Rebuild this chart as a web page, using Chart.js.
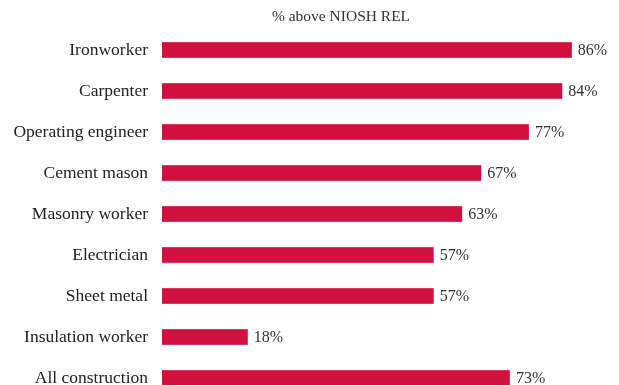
<!DOCTYPE html>
<html>
<head>
<meta charset="utf-8">
<script src="https://cdn.jsdelivr.net/npm/chart.js@4.4.1/dist/chart.umd.min.js"></script>
<style>
  html, body { margin: 0; padding: 0; background: #fff; overflow: hidden; }
  #wrap { position: relative; width: 619px; height: 400px; }
</style>
</head>
<body>
<div id="wrap"><canvas id="c"></canvas></div>
<script>
const trades = [
  "Ironworker", "Carpenter", "Operating engineer", "Cement mason",
  "Masonry worker", "Electrician", "Sheet metal", "Insulation worker",
  "All construction"
];
const pctAboveRel = [86, 84, 77, 67, 63, 57, 57, 18, 73];
const headerText = "% above NIOSH REL";

const serif = "'Liberation Serif', 'Times New Roman', serif";

// Header text above the bars
const headerPlugin = {
  id: "header",
  afterDraw(chart) {
    const ctx = chart.ctx;
    ctx.save();
    ctx.font = "15.5px " + serif;
    ctx.fillStyle = "#333";
    ctx.textAlign = "center";
    ctx.textBaseline = "middle";
    ctx.fillText(headerText, 341, 17);
    ctx.restore();
  }
};

// Percentage labels at the end of each bar
const valueLabels = {
  id: "valueLabels",
  afterDatasetsDraw(chart) {
    const ctx = chart.ctx;
    const meta = chart.getDatasetMeta(0);
    ctx.save();
    ctx.font = "16px " + serif;
    ctx.fillStyle = "#333";
    ctx.textAlign = "left";
    ctx.textBaseline = "middle";
    meta.data.forEach((bar, i) => {
      ctx.fillText(pctAboveRel[i] + "%", bar.x + 6, bar.y + 1);
    });
    ctx.restore();
  }
};

new Chart(document.getElementById("c"), {
  type: "bar",
  data: {
    labels: trades,
    datasets: [{
      data: pctAboveRel,
      backgroundColor: "#D0103E",
      borderColor: "#E8A0B0",
      borderWidth: 0.5,
      barThickness: 16
    }]
  },
  options: {
    indexAxis: "y",
    responsive: true,
    maintainAspectRatio: false,
    animation: false,
    layout: { padding: { top: 29.5, bottom: 1.5, left: 0, right: 9 } },
    plugins: { legend: { display: false }, tooltip: { enabled: false }, title: { display: false } },
    scales: {
      x: { display: false, min: 0, max: 94 },
      y: {
        afterFit(axis) {
          axis.width = 162;
          // let the rows use the full height; labels sit inside their bands
          axis.paddingTop = 0;
          axis.paddingBottom = 0;
        },
        grid: { display: false, drawTicks: false },
        border: { display: false },
        ticks: {
          padding: 14,
          color: "#222",
          font: { family: serif, size: 17.5 }
        }
      }
    }
  },
  plugins: [headerPlugin, valueLabels]
});
</script>
</body>
</html>
